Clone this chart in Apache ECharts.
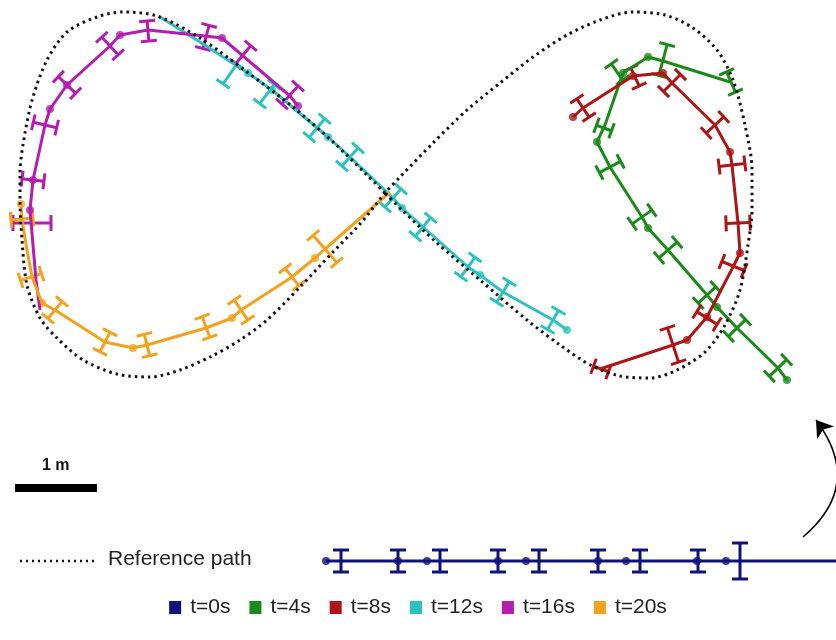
<!DOCTYPE html>
<html>
<head>
<meta charset="utf-8">
<title>Trajectory tracking</title>
<script src="https://cdn.jsdelivr.net/npm/echarts@6/dist/echarts.min.js"></script>
<style>
  html, body { margin: 0; padding: 0; background: #fff; }
  #chart { width: 836px; height: 640px; }
</style>
</head>
<body>
<div id="chart"></div>
<script>
// positions are in picture units (1 m = 82 units, y grows downwards)
const refPath = [
  [385, 193], [367, 175], [333, 142], [293, 107], [247, 72], [200, 38], [157, 16], [123, 12],
  [97, 17], [67, 32], [47, 60], [33, 97], [25, 133], [20, 173], [20, 200], [22, 240], [27, 285],
  [40, 318], [57, 338], [83, 360], [117, 374], [150, 377], [180, 370], [210, 357], [240, 340],
  [267, 320], [300, 287], [333, 252], [360, 224], [385, 193],
  [400, 177], [433, 143], [467, 110], [500, 83], [533, 57], [567, 35], [600, 20], [633, 12],
  [665, 15], [693, 28], [717, 50], [733, 80], [745, 125], [752, 170], [752, 210], [748, 245],
  [740, 290], [725, 325], [705, 352], [677, 370], [650, 378], [620, 376], [592, 366], [560, 345],
  [527, 320], [480, 280], [437, 243], [402, 210], [385, 193]
]

const seriesNames = ['t=0s', 't=4s', 't=8s', 't=12s', 't=16s', 't=20s']
const seriesColors = ['#10127c', '#1a8a1a', '#ad1616', '#2cc2c2', '#b41db0', '#f2a21d']

// error bars: [x, y, path direction (deg), half length]
const blueLine = [[326, 561], [836, 561]]
const blueDots = [[326, 561], [398, 561], [427, 561], [498, 561], [526, 561], [598, 561], [626, 561], [697, 561], [726, 561]]
const blueBars = [
  [341, 561, 0, 11], [398, 561, 0, 11], [440, 561, 0, 11], [498, 561, 0, 11], [539, 561, 0, 11],
  [598, 561, 0, 11], [640, 561, 0, 11], [698, 561, 0, 11], [740, 561, 0, 18]
]

const greenLine = [
  [787, 380], [778, 368], [737, 328], [717, 307], [707, 295], [668, 250], [648, 228], [642, 217],
  [610, 167], [597, 142], [605, 125], [623, 73], [648, 57], [663, 61], [730, 82]
]
const greenDots = [[787, 380], [717, 307], [648, 228], [597, 142], [623, 73], [648, 57]]
const greenBars = [
  [778, 368, 46, 12], [737, 328, 46, 12], [707, 295, 47, 12], [668, 250, 49, 12], [642, 217, 55, 12],
  [610, 167, 62, 12], [604, 128, -70, 8], [617, 72, -35, 10], [663, 60, 15, 16], [731, 82, -24, 11]
]

const redLine = [
  [573, 117], [583, 108], [633, 76], [663, 73], [672, 83], [715, 125], [730, 152], [732, 165],
  [738, 223], [740, 253], [733, 267], [707, 317], [687, 340], [673, 345], [600, 369]
]
const redDots = [[573, 117], [633, 76], [663, 73], [730, 152], [740, 253], [707, 317], [687, 340]]
const redBars = [
  [583, 108, -34, 11], [635, 77, -25, 10], [672, 83, 45, 12], [715, 125, 47, 12], [732, 165, 83, 13],
  [738, 223, 88, 12], [733, 266, 112, 12], [707, 318, 122, 12], [673, 345, -18, 18], [601, 369, -70, 8]
]

const cyanLine = [
  [160, 17], [200, 42], [248, 73], [272, 90], [328, 137], [350, 157], [393, 198], [402, 208],
  [423, 227], [468, 267], [480, 275], [503, 292], [553, 320], [567, 330]
]
const cyanDots = [[248, 73], [272, 90], [328, 137], [402, 208], [480, 275], [567, 330]]
const cyanBars = [
  [230, 74, 35, 12], [267, 94, 37, 12], [317, 128, 40, 12], [350, 157, 42, 12], [393, 198, 42, 12],
  [423, 227, 40, 12], [468, 267, 36, 12], [503, 292, 32, 12], [553, 320, 30, 11]
]

const magentaLine = [
  [298, 106], [290, 96], [243, 56], [222, 38], [205, 36], [148, 30], [120, 35], [110, 46], [67, 85],
  [50, 109], [45, 125], [33, 180], [30, 210], [33, 245], [36, 280], [40, 310]
]
const magentaDots = [[298, 106], [222, 38], [120, 35], [67, 85], [50, 109], [33, 180], [30, 210]]
const magentaBars = [
  [290, 95, 42, 12], [243, 55, 40, 12], [206, 37, 15, 12], [148, 31, -5, 10], [110, 46, -43, 12],
  [67, 85, -46, 12], [45, 125, -77, 12], [33, 180, -83, 11], [32, 223, 90, 19]
]

const orangeLine = [
  [21, 204], [22, 220], [27, 250], [32, 277], [42, 303], [55, 310], [105, 342], [133, 348], [147, 345],
  [206, 328], [232, 318], [241, 310], [292, 277], [315, 258], [325, 249], [390, 192]
]
const orangeDots = [[21, 204], [42, 303], [133, 348], [232, 318], [315, 258]]
const orangeBars = [
  [22, 219, 85, 11], [31, 277, 72, 11], [55, 310, 40, 11], [105, 342, 27, 11], [147, 345, -14, 11],
  [206, 327, -20, 11], [241, 310, -34, 12], [292, 277, -38, 11], [325, 249, -41, 18]
]

const arrowCoords = [[803, 537], [816, 420]]

const tracks = [
  [blueLine, blueDots, blueBars],
  [greenLine, greenDots, greenBars],
  [redLine, redDots, redBars],
  [cyanLine, cyanDots, cyanBars],
  [magentaLine, magentaDots, magentaBars],
  [orangeLine, orangeDots, orangeBars],
]

const chart = echarts.init(document.getElementById('chart'))

// I-shaped bar across the path: stem perpendicular, caps along the path
const barRenderer = (color) => (params, api) => {
  const c = api.coord([api.value(0), api.value(1)])
  const a = (api.value(2) * Math.PI) / 180
  const len = api.value(3)
  const cap = 8
  const dx = Math.cos(a)
  const dy = Math.sin(a)
  const p1 = [c[0] - dy * len, c[1] + dx * len]
  const p2 = [c[0] + dy * len, c[1] - dx * len]
  const style = { stroke: color, lineWidth: 3, lineCap: 'butt' }
  const seg = (x1, y1, x2, y2) => ({ type: 'line', shape: { x1, y1, x2, y2 }, style })
  return {
    type: 'group',
    children: [
      seg(p1[0], p1[1], p2[0], p2[1]),
      seg(p1[0] - dx * cap, p1[1] - dy * cap, p1[0] + dx * cap, p1[1] + dy * cap),
      seg(p2[0] - dx * cap, p2[1] - dy * cap, p2[0] + dx * cap, p2[1] + dy * cap),
    ],
  }
}

const series = []
tracks.forEach(([line, dots, bars], i) => {
  const name = seriesNames[i]
  const color = seriesColors[i]
  series.push(
    {
      name,
      type: 'line',
      data: line,
      symbol: 'none',
      lineStyle: { color, width: 3 },
      itemStyle: { color },
      silent: true,
    },
    {
      name,
      type: 'custom',
      data: bars,
      encode: { x: 0, y: 1 },
      renderItem: barRenderer(color),
      silent: true,
    },
    {
      name,
      type: 'scatter',
      data: dots,
      symbolSize: 8,
      itemStyle: { color },
      silent: true,
    },
  )
})

series.push(
  {
    name: 'Reference path',
    type: 'line',
    data: refPath,
    symbol: 'none',
    smooth: 0.3,
    lineStyle: { color: '#111', width: 3, type: [2.5, 4] },
    silent: true,
  },
  {
    type: 'lines',
    coordinateSystem: 'cartesian2d',
    data: [{ coords: arrowCoords }],
    symbol: ['none', 'arrow'],
    symbolSize: 16,
    lineStyle: { color: '#000', width: 1.6, opacity: 1, curveness: -0.47 },
    silent: true,
  },
)

chart.setOption({
  animation: false,
  backgroundColor: '#fff',
  grid: { left: 0, right: 0, top: 0, bottom: 0 },
  xAxis: { type: 'value', min: 0, max: 836, show: false },
  yAxis: { type: 'value', min: 0, max: 640, inverse: true, show: false },
  legend: {
    data: seriesNames,
    top: 592,
    left: 'center',
    icon: 'rect',
    itemWidth: 12,
    itemHeight: 13,
    itemGap: 19,
    textStyle: { fontSize: 21, color: '#222', fontFamily: 'Liberation Sans', padding: [0, 0, 0, 4] },
  },
  graphic: [
    {
      type: 'line',
      shape: { x1: 20, y1: 561, x2: 95, y2: 561 },
      style: { stroke: '#111', lineWidth: 2.5, lineDash: [2, 4] },
    },
    {
      type: 'text',
      left: 108,
      top: 549,
      style: { text: 'Reference path', fontSize: 21, fill: '#222', fontFamily: 'Liberation Sans' },
    },
    {
      type: 'rect',
      shape: { x: 15, y: 484, width: 82, height: 8 },
      style: { fill: '#000' },
    },
    {
      type: 'text',
      left: 42,
      top: 458,
      style: { text: '1 m', fontSize: 16, fontWeight: 'bold', fill: '#111', fontFamily: 'Liberation Sans Narrow, Liberation Sans' },
    },
  ],
  series,
})
</script>
</body>
</html>
